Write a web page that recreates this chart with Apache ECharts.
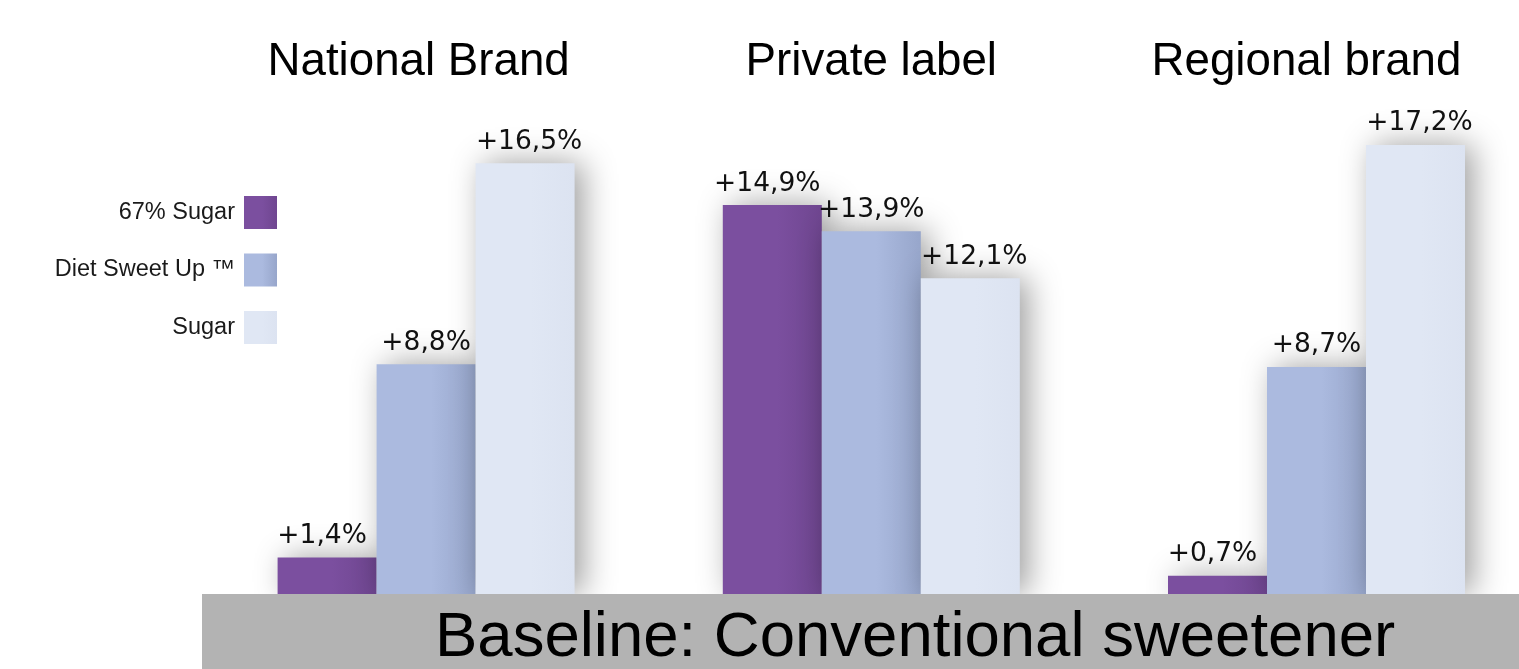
<!DOCTYPE html>
<html>
<head>
<meta charset="utf-8">
<script src="https://cdn.jsdelivr.net/npm/echarts@6/dist/echarts.min.js"></script>
<style>
html,body{margin:0;padding:0;background:#fff;}
#chart{width:1519px;height:669px;}
</style>
</head>
<body>
<div id="chart"></div>
<script>
const categories = ['National Brand', 'Private label', 'Regional brand'];
const seriesNames = ['67% Sugar', 'Diet Sweet Up \u2122', 'Sugar'];
const sugar67 = [1.4, 14.9, 0.7];
const dietSweetUp = [8.8, 13.9, 8.7];
const sugar = [16.5, 12.1, 17.2];
const baselineText = 'Baseline: Conventional sweetener';

const chart = echarts.init(document.getElementById('chart'));

function grad(c1, c2) {
  return new echarts.graphic.LinearGradient(0, 0, 1, 0, [
    {offset: 0, color: c1}, {offset: 0.55, color: c1}, {offset: 1, color: c2}
  ]);
}
const fmt = p => '+' + p.value.toFixed(1).replace('.', ',') + '%';
const labelStyle = {
  show: true, position: 'top', distance: 8, formatter: fmt,
  fontFamily: 'DejaVu Sans', fontSize: 26.5, color: '#111'
};
const shadow = {shadowBlur: 30, shadowColor: 'rgba(0,0,0,0.38)', shadowOffsetX: 8, shadowOffsetY: 0};

function mk(name, data, c1, c2, offX) {
  return {
    name: name, type: 'bar', data: data, barWidth: 99, barGap: '0%', clip: false,
    itemStyle: Object.assign({color: grad(c1, c2)}, shadow),
    label: Object.assign({}, labelStyle, {offset: [offX, 0]}),
    emphasis: {disabled: true}
  };
}

// small per-title horizontal nudges (via right padding) to match the reference
const titlePad = [[0, 15, 0, 0], [0, 0, 0, 0], [0, 20, 0, 0]];

chart.setOption({
  animation: false,
  backgroundColor: '#fff',
  grid: {left: 426.1, top: 72, width: 890.4, bottom: 75, containLabel: false},
  legend: {
    orient: 'vertical', right: 1237, top: 191, align: 'right',
    itemWidth: 33, itemHeight: 33, itemGap: 24.5,
    icon: 'rect',
    itemStyle: {shadowBlur: 0, shadowOffsetX: 0},
    textStyle: {fontFamily: 'Liberation Sans', fontSize: 23.5, color: '#1a1a1a', padding: [0, 4, 0, 0]},
    data: seriesNames
  },
  xAxis: {
    type: 'category', position: 'top', boundaryGap: false,
    data: categories.map((c, i) => ({value: c, textStyle: {padding: titlePad[i]}})),
    axisLine: {show: false}, axisTick: {show: false}, splitLine: {show: false},
    axisLabel: {fontFamily: 'Liberation Sans', fontSize: 45.7, color: '#000', margin: -13}
  },
  yAxis: {type: 'value', min: 0, max: 20, show: false},
  series: [
    mk(seriesNames[0], sugar67, '#7B4F9F', '#6F4690', -5),
    mk(seriesNames[1], dietSweetUp, '#ABBADF', '#97A6CB', 0),
    mk(seriesNames[2], sugar, '#E0E7F4', '#DCE3F1', 4)
  ],
  graphic: [
    {type: 'rect', left: 202, top: 594, z: 100,
     shape: {width: 1330, height: 80}, style: {fill: '#b3b3b3'}},
    {type: 'text', left: 435, top: 606, z: 101,
     style: {text: baselineText, fontFamily: 'Liberation Sans', fontSize: 63.5, fill: '#000'}}
  ]
});
</script>
</body>
</html>
